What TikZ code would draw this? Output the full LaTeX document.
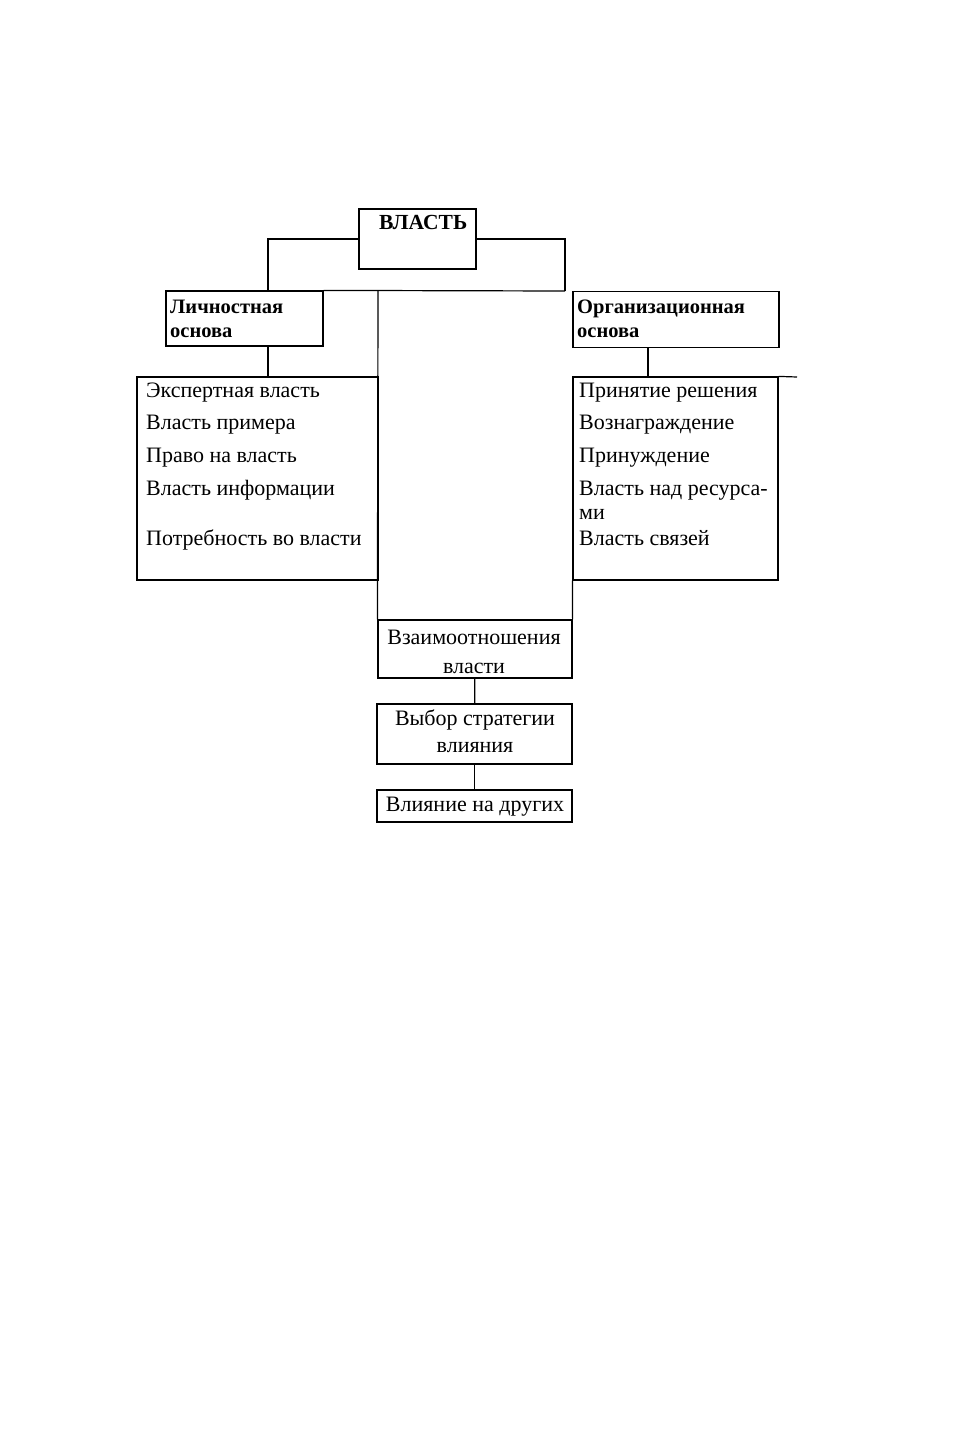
\documentclass[tikz,border=0pt]{standalone}
\usepackage{fontspec}
\setmainfont{Liberation Serif}
\usetikzlibrary{positioning}

\begin{document}
\begin{tikzpicture}[x=1pt,y=-1pt,
  box/.style={draw, line width=1.2pt, inner sep=0pt},
  head/.style={font=\fontsize{20.5}{24}\selectfont\bfseries, anchor=base west, inner sep=0pt},
  item/.style={font=\fontsize{22}{24}\selectfont, anchor=base west, inner sep=0pt},
  mid/.style={font=\fontsize{22}{24}\selectfont, anchor=base, inner sep=0pt},
  link/.style={line width=1.2pt}
]
  \useasboundingbox (0,0) rectangle (970,1435);

  % boxes
  \node[box, minimum width=117, minimum height=60] (vlast) at (417.5,239) {};
  \node[box, minimum width=157, minimum height=55] (lichn) at (244.5,318.5) {};
  \node[box, minimum width=206, minimum height=56] (org) at (676,319.5) {};
  \node[box, minimum width=241, minimum height=203] (llist) at (257.5,478.5) {};
  \node[box, minimum width=205, minimum height=203] (rlist) at (675.5,478.5) {};
  \node[box, minimum width=194, minimum height=58] (vzaim) at (475,649) {};
  \node[box, minimum width=195, minimum height=60] (vybor) at (474.5,734) {};
  \node[box, minimum width=195, minimum height=32] (vliyan) at (474.5,806) {};

  % texts
  \node[head, font=\fontsize{21.5}{24}\selectfont\bfseries] (vlastT) at (379,229) {ВЛАСТЬ};
  \node[head] (lichnT) at (170,313) {Личностная};
  \node[head] (lichnB) at (170,337) {основа};
  \node[head] (orgT) at (577,313) {Организационная};
  \node[head] (orgB) at (577,337) {основа};

  \node[item] (l1) at (146,397) {Экспертная власть};
  \node[item] (l2) at (146,429) {Власть примера};
  \node[item] (l3) at (146,462) {Право на власть};
  \node[item] (l4) at (146,495) {Власть информации};
  \node[item] (l5) at (146,545) {Потребность во власти};

  \node[item] (r1) at (579,397) {Принятие решения};
  \node[item] (r2) at (579,429) {Вознаграждение};
  \node[item] (r3) at (579,462) {Принуждение};
  \node[item] (r4) at (579,495) {Власть над ресурса-};
  \node[item] (r5) at (579,519) {ми};
  \node[item] (r6) at (579,545) {Власть связей};

  \node[mid] (vzaimT) at (474,644) {Взаимоотношения};
  \node[mid] (vzaimB) at (474,673) {власти};
  \node[mid] (vyborT) at (475,725) {Выбор стратегии};
  \node[mid] (vyborB) at (475,752) {влияния};
  \node[mid] (vliyanT) at (475,811) {Влияние на других};

  % connectors
  \coordinate (lj) at (268,291);
  \coordinate (rj) at (565,291);
  \coordinate (cl) at (378,291);
  \coordinate (oj) at (648,347);
  \coordinate (rtick) at (797,377);

  \draw[link] (vlast.west) -| (lj);
  \draw[link] (vlast.east) -| (rj);
  \draw[link] (lichn.north east) -- (rj);
  \draw[link] (cl) -- (vzaim.north west);
  \draw[link] (lichn.south -| lj) -- (llist.north -| lj);
  \draw[link] (oj) -- (rlist.north -| oj);
  \draw[link] (rlist.north east) -- (rtick);
  \draw[link] (rlist.south west) -- (vzaim.north east);
  \draw[link] (vzaim) -- (vybor);
  \draw[link] (vybor) -- (vliyan);
\end{tikzpicture}
\end{document}
